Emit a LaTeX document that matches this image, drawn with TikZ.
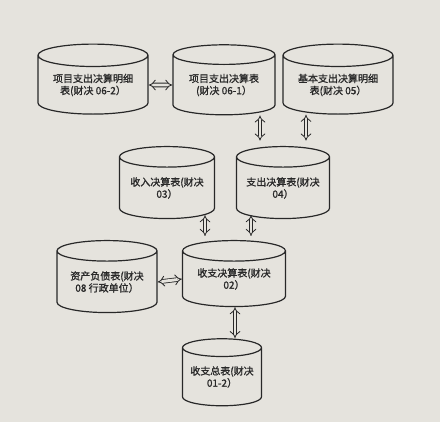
\documentclass[tikz,border=0pt]{standalone}
\usepackage{fontspec}
\setmainfont{Noto Sans CJK SC}[FakeBold=1.2]
\usetikzlibrary{arrows.meta}
\usetikzlibrary{shapes.geometric}

\definecolor{paper}{RGB}{229,227,221}
\definecolor{ink}{RGB}{40,40,40}

\tikzset{
  can/.style 2 args={cylinder, shape border rotate=90, aspect=0.28, draw=ink, line width=0.9pt,
    fill=paper, align=center, font=\fontsize{7.5pt}{9pt}\selectfont, text=ink, inner sep=0pt,
    minimum width=#1*0.75pt, minimum height=#2*0.75pt},
  dblarrow/.style={draw=ink, double=paper, double distance=2.2pt, line width=0.6pt, {Implies}-{Implies}}
}

\begin{document}
\begin{tikzpicture}[x=0.75pt,y=0.75pt,yscale=-1,xscale=1]
\fill[paper] (0,0) rectangle (440,422);
\useasboundingbox (0,0) rectangle (440,422);

% Can
\node [can={110}{70}] (mxb062) at (93,85) {项目支出决算明细\\表(财决 06-2）};
% Can
\node [can={102}{70}] (jsb061) at (224,85) {项目支出决算表\\(财决 06-1）};
% Can
\node [can={110}{70}] (mxb05) at (338,85) {基本支出决算明细\\表(财决 05）};
% Can
\node [can={95}{72}] (srb03) at (167,188) {收入决算表(财决\\03）};
% Can
\node [can={93}{72}] (zcb04) at (283,188) {支出决算表(财决\\04）};
% Can
\node [can={100}{72}] (fzb08) at (107,282) {资产负债表(财决\\08 行政单位）};
% Can
\node [can={103}{66}] (szb02) at (234,279) {收支决算表(财决\\02）};
% Can
\node [can={79}{67}] (zb012) at (222,377) {收支总表(财决\\01-2）};

% Arrows
\coordinate (xa) at (260,0);
\coordinate (xb) at (306,0);
\coordinate (xc) at (205,0);
\coordinate (xd) at (251,0);
\coordinate (xe) at (235,0);
\draw [dblarrow] (mxb062.east) -- (jsb061.west);
\draw [dblarrow] (fzb08.east) -- (szb02.west);
\draw [dblarrow, shorten >=4] (jsb061.south -| xa) -- (zcb04.north -| xa);
\draw [dblarrow, shorten >=4] (mxb05.south -| xb) -- (zcb04.north -| xb);
\draw [dblarrow, shorten <=-3, shorten >=3] (srb03.south -| xc) -- (szb02.north -| xc);
\draw [dblarrow, shorten <=-3, shorten >=3] (zcb04.south -| xd) -- (szb02.north -| xd);
\draw [dblarrow] (szb02.south -| xe) -- (zb012.north -| xe);

\end{tikzpicture}
\end{document}
